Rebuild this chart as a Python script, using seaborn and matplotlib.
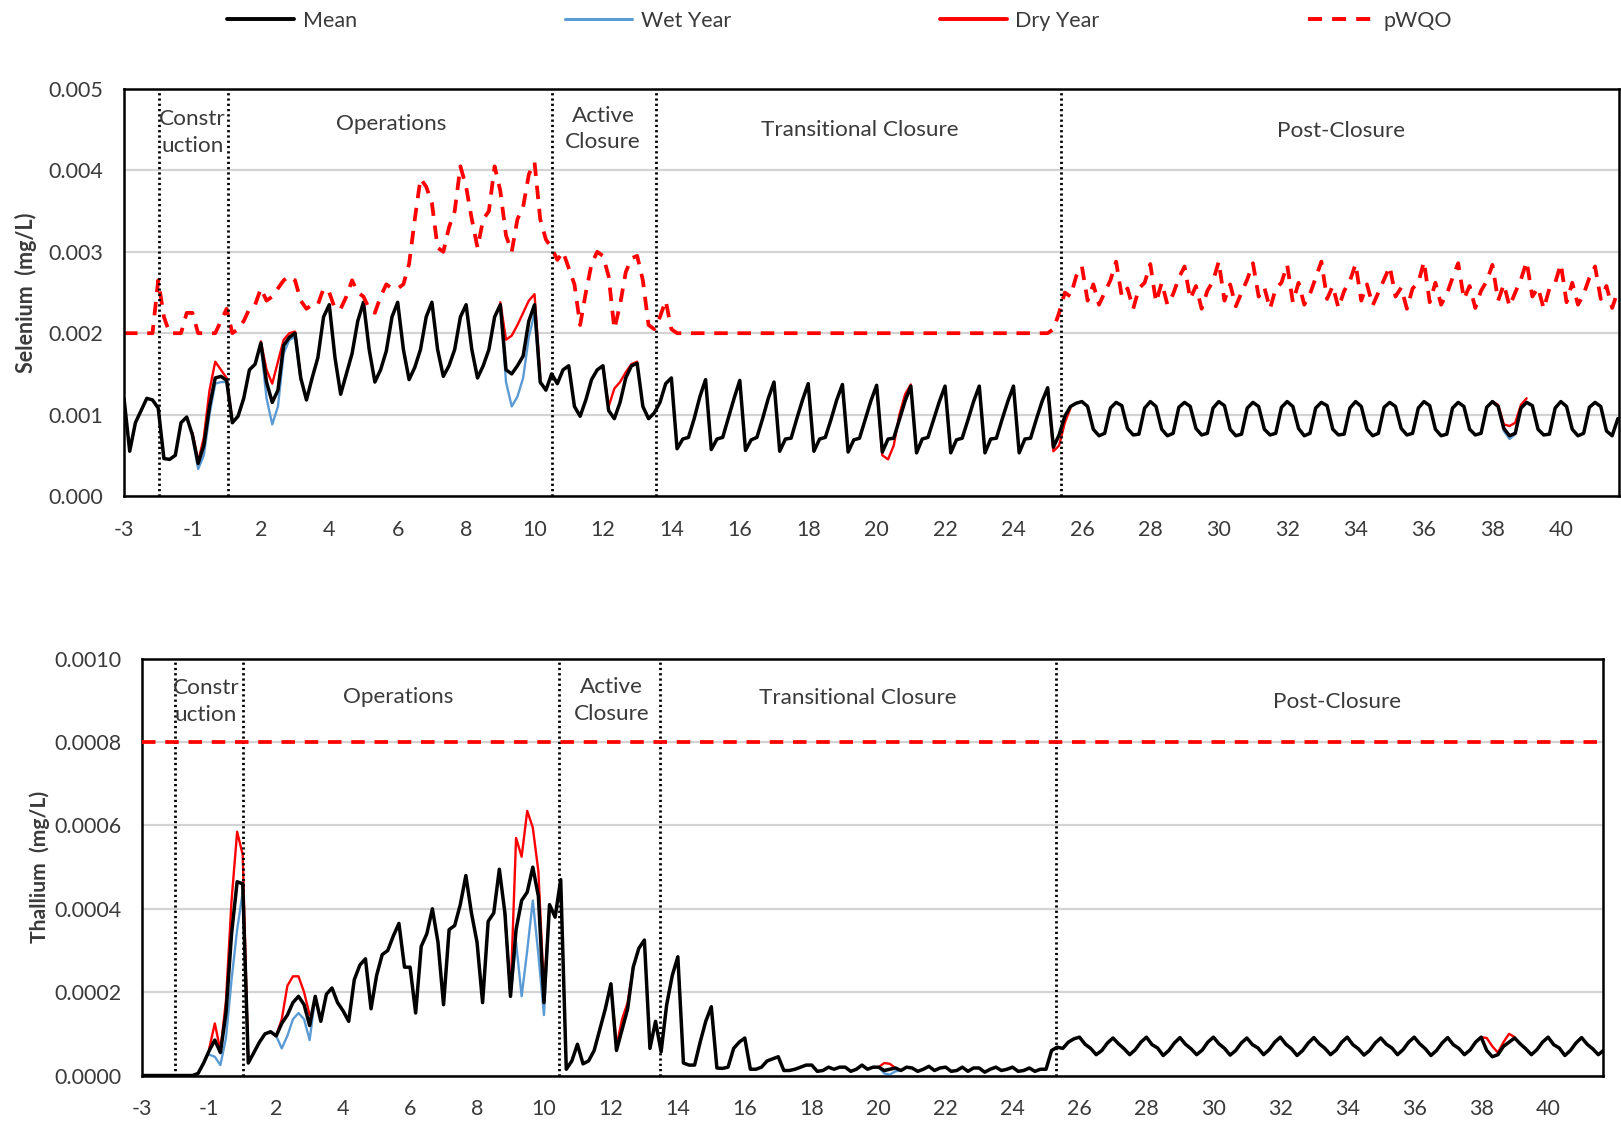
import numpy as np
import pandas as pd
import matplotlib
matplotlib.use("Agg")
import matplotlib.pyplot as plt
from matplotlib.lines import Line2D
import seaborn as sns

# ---------------------------------------------------------------------------
# Time axis: one sample every two months; position 0 is the start of Year -3.
# Years run -3, -2, -1, 1, 2, ... (no year 0).
# ---------------------------------------------------------------------------
SAMPLES_PER_YEAR = 6
year_labels = ["-3", "-2", "-1"] + [str(y) for y in range(1, 42)]

# Selenium, mean scenario (ug/L = mg/L x 1000), six values per year
se_mean_ugL = [
    1.20, 0.55, 0.90, 1.05, 1.20, 1.18,
    1.08, 0.46, 0.45, 0.50, 0.90, 0.97,
    0.75, 0.40, 0.62, 1.10, 1.45, 1.47,
    1.42, 0.90, 0.98, 1.20, 1.55, 1.62,
    1.88, 1.40, 1.15, 1.30, 1.85, 1.95,
    2.00, 1.45, 1.18, 1.45, 1.70, 2.20,
    2.35, 1.70, 1.25, 1.50, 1.75, 2.15,
    2.38, 1.80, 1.40, 1.55, 1.78, 2.20,
    2.38, 1.80, 1.43, 1.58, 1.80, 2.20,
    2.38, 1.80, 1.47, 1.60, 1.80, 2.20,
    2.35, 1.80, 1.45, 1.60, 1.80, 2.20,
    2.35, 1.55, 1.50, 1.60, 1.72, 2.15,
    2.35, 1.40, 1.30, 1.50, 1.38, 1.55,
    1.60, 1.10, 0.98, 1.18, 1.43, 1.55,
    1.60, 1.05, 0.95, 1.15, 1.45, 1.60,
    1.63, 1.10, 0.95, 1.02, 1.15, 1.38,
    1.45, 0.58, 0.70, 0.72, 0.95, 1.22,
    1.43, 0.57, 0.70, 0.72, 0.96, 1.20,
    1.42, 0.56, 0.69, 0.72, 0.95, 1.20,
    1.40, 0.55, 0.70, 0.71, 0.95, 1.18,
    1.38, 0.55, 0.70, 0.72, 0.94, 1.18,
    1.37, 0.54, 0.69, 0.71, 0.94, 1.17,
    1.36, 0.54, 0.70, 0.71, 0.94, 1.17,
    1.35, 0.53, 0.70, 0.72, 0.94, 1.16,
    1.35, 0.53, 0.69, 0.71, 0.93, 1.16,
    1.35, 0.53, 0.70, 0.71, 0.94, 1.16,
    1.35, 0.53, 0.70, 0.71, 0.94, 1.16,
    1.33, 0.60, 0.75, 0.98, 1.10, 1.14,
    1.16, 1.10, 0.82, 0.74, 0.77, 1.08,
    1.15, 1.11, 0.83, 0.75, 0.76, 1.08,
    1.16, 1.10, 0.82, 0.74, 0.77, 1.09,
    1.15, 1.10, 0.83, 0.75, 0.77, 1.08,
    1.16, 1.11, 0.82, 0.74, 0.76, 1.08,
    1.15, 1.10, 0.82, 0.75, 0.77, 1.09,
    1.16, 1.10, 0.83, 0.74, 0.77, 1.08,
    1.15, 1.11, 0.82, 0.75, 0.76, 1.08,
    1.16, 1.10, 0.82, 0.74, 0.77, 1.09,
    1.15, 1.10, 0.83, 0.75, 0.77, 1.08,
    1.16, 1.11, 0.82, 0.74, 0.76, 1.08,
    1.15, 1.10, 0.82, 0.75, 0.77, 1.09,
    1.16, 1.10, 0.83, 0.74, 0.77, 1.08,
    1.15, 1.11, 0.82, 0.75, 0.76, 1.08,
    1.16, 1.10, 0.82, 0.74, 0.77, 1.09,
    1.15, 1.10, 0.80, 0.74, 0.95,
]

# Selenium provisional water quality objective (ug/L)
se_pwqo_ugL = [
    2.00, 2.00, 2.00, 2.00, 2.00, 2.00,
    2.65, 2.20, 2.00, 2.00, 2.00, 2.25,
    2.25, 2.00, 2.00, 2.00, 2.00, 2.15,
    2.30, 2.00, 2.05, 2.15, 2.30, 2.35,
    2.55, 2.40, 2.45, 2.55, 2.65, 2.70,
    2.65, 2.40, 2.30, 2.35, 2.35, 2.55,
    2.50, 2.30, 2.30, 2.45, 2.65, 2.50,
    2.45, 2.30, 2.25, 2.45, 2.60, 2.55,
    2.55, 2.60, 2.85, 3.40, 3.90, 3.80,
    3.60, 3.05, 3.00, 3.30, 3.50, 4.05,
    3.80, 3.40, 3.05, 3.40, 3.50, 4.05,
    3.75, 3.20, 3.00, 3.40, 3.55, 3.95,
    4.10, 3.40, 3.15, 3.05, 2.90, 3.00,
    2.80, 2.60, 2.10, 2.50, 2.85, 3.00,
    2.95, 2.70, 2.05, 2.35, 2.75, 2.92,
    2.95, 2.65, 2.10, 2.05, 2.20, 2.40,
    2.05, 2.00, 2.00, 2.00, 2.00, 2.00,
    2.00, 2.00, 2.00, 2.00, 2.00, 2.00,
    2.00, 2.00, 2.00, 2.00, 2.00, 2.00,
    2.00, 2.00, 2.00, 2.00, 2.00, 2.00,
    2.00, 2.00, 2.00, 2.00, 2.00, 2.00,
    2.00, 2.00, 2.00, 2.00, 2.00, 2.00,
    2.00, 2.00, 2.00, 2.00, 2.00, 2.00,
    2.00, 2.00, 2.00, 2.00, 2.00, 2.00,
    2.00, 2.00, 2.00, 2.00, 2.00, 2.00,
    2.00, 2.00, 2.00, 2.00, 2.00, 2.00,
    2.00, 2.00, 2.00, 2.00, 2.00, 2.00,
    2.00, 2.05, 2.25, 2.50, 2.45, 2.70,
    2.82, 2.40, 2.60, 2.35, 2.50, 2.65,
    2.88, 2.45, 2.55, 2.30, 2.55, 2.62,
    2.85, 2.38, 2.62, 2.35, 2.48, 2.68,
    2.82, 2.42, 2.58, 2.30, 2.52, 2.64,
    2.88, 2.40, 2.60, 2.33, 2.50, 2.66,
    2.86, 2.45, 2.56, 2.30, 2.55, 2.62,
    2.84, 2.38, 2.62, 2.35, 2.48, 2.68,
    2.88, 2.42, 2.58, 2.31, 2.52, 2.64,
    2.85, 2.40, 2.60, 2.34, 2.50, 2.66,
    2.82, 2.45, 2.56, 2.30, 2.55, 2.62,
    2.88, 2.38, 2.62, 2.35, 2.48, 2.68,
    2.86, 2.42, 2.58, 2.31, 2.52, 2.64,
    2.84, 2.40, 2.60, 2.33, 2.50, 2.66,
    2.88, 2.45, 2.56, 2.30, 2.55, 2.62,
    2.85, 2.38, 2.62, 2.35, 2.48, 2.68,
    2.82, 2.42, 2.58, 2.31, 2.52,
]

# Wet / dry year selenium where they depart from the mean: (start year position, values)
se_wet_ugL = [
    (2.0, [0.72, 0.33, 0.50, 1.00, 1.38, 1.40, 1.40, 0.90]),
    (4.0, [1.85, 1.20, 0.88, 1.10, 1.75, 1.92, 1.95, 1.42]),
    (11.0, [2.35, 1.40, 1.10, 1.22, 1.45, 1.95, 2.25, 1.38]),
    (40.0, [1.16, 1.10, 0.80, 0.70, 0.76, 1.08]),
]
se_dry_ugL = [
    (2.0, [0.78, 0.42, 0.72, 1.30, 1.65, 1.55, 1.45, 0.92]),
    (4.0, [1.90, 1.55, 1.38, 1.65, 1.92, 2.00, 2.02, 1.45]),
    (11.0, [2.38, 1.92, 1.97, 2.10, 2.25, 2.40, 2.48, 1.45]),
    (14.0, [1.60, 1.10, 1.32, 1.40, 1.52, 1.62, 1.65]),
    (22.0, [1.36, 0.50, 0.45, 0.62, 1.00, 1.25, 1.37]),
    (27.0, [1.33, 0.55, 0.62, 0.90, 1.08]),
    (40.0, [1.16, 1.12, 0.88, 0.86, 0.90, 1.12, 1.20]),
]

# Thallium, mean scenario (units of 1e-4 mg/L), six values per year
tl_mean_e4 = [
    0.00, 0.00, 0.00, 0.00, 0.00, 0.00,
    0.00, 0.00, 0.00, 0.00, 0.05, 0.30,
    0.60, 0.85, 0.55, 1.50, 3.40, 4.65,
    4.60, 0.30, 0.55, 0.80, 1.00, 1.05,
    0.95, 1.25, 1.45, 1.75, 1.90, 1.70,
    1.20, 1.90, 1.30, 1.95, 2.10, 1.75,
    1.55, 1.30, 2.30, 2.65, 2.80, 1.60,
    2.40, 2.90, 3.00, 3.35, 3.65, 2.60,
    2.60, 1.50, 3.10, 3.40, 4.00, 3.20,
    1.70, 3.50, 3.60, 4.10, 4.80, 3.90,
    3.20, 1.75, 3.70, 3.90, 4.95, 3.90,
    1.90, 3.50, 4.20, 4.40, 5.00, 4.30,
    1.75, 4.10, 3.80, 4.70, 0.15, 0.35,
    0.75, 0.28, 0.35, 0.60, 1.10, 1.60,
    2.20, 0.60, 1.10, 1.60, 2.60, 3.05,
    3.25, 0.65, 1.30, 0.57, 1.70, 2.40,
    2.85, 0.30, 0.25, 0.25, 0.80, 1.30,
    1.65, 0.18, 0.17, 0.20, 0.65, 0.80,
    0.90, 0.15, 0.15, 0.20, 0.35, 0.40,
    0.45, 0.12, 0.12, 0.15, 0.20, 0.25,
    0.25, 0.10, 0.12, 0.20, 0.15, 0.20,
    0.20, 0.10, 0.15, 0.25, 0.15, 0.20,
    0.20, 0.12, 0.15, 0.18, 0.12, 0.20,
    0.18, 0.10, 0.15, 0.22, 0.12, 0.18,
    0.20, 0.10, 0.12, 0.20, 0.10, 0.18,
    0.18, 0.08, 0.15, 0.20, 0.12, 0.15,
    0.20, 0.10, 0.12, 0.18, 0.10, 0.15,
    0.15, 0.60, 0.68, 0.65, 0.80, 0.88,
    0.92, 0.75, 0.65, 0.50, 0.60, 0.78,
    0.90, 0.76, 0.64, 0.50, 0.62, 0.80,
    0.92, 0.74, 0.66, 0.48, 0.60, 0.78,
    0.91, 0.75, 0.64, 0.50, 0.61, 0.80,
    0.92, 0.76, 0.65, 0.49, 0.60, 0.78,
    0.90, 0.74, 0.66, 0.50, 0.62, 0.80,
    0.92, 0.75, 0.64, 0.48, 0.60, 0.78,
    0.91, 0.76, 0.65, 0.50, 0.61, 0.80,
    0.92, 0.74, 0.64, 0.49, 0.60, 0.78,
    0.90, 0.75, 0.66, 0.50, 0.62, 0.80,
    0.92, 0.76, 0.64, 0.48, 0.60, 0.78,
    0.91, 0.74, 0.65, 0.50, 0.61, 0.80,
    0.92, 0.60, 0.45, 0.50, 0.70, 0.80,
    0.90, 0.76, 0.64, 0.50, 0.62, 0.80,
    0.92, 0.74, 0.66, 0.48, 0.60, 0.78,
    0.91, 0.75, 0.64, 0.50, 0.61,
]
tl_wet_e4 = [
    (2.0, [0.50, 0.45, 0.25, 0.90, 2.30, 3.50, 4.40, 0.30]),
    (4.0, [0.95, 0.65, 0.95, 1.35, 1.50, 1.35, 0.85, 1.90]),
    (10.833333, [3.90, 1.90, 3.20, 1.90, 3.00, 4.20, 2.90, 1.45, 4.10]),
    (22.0, [0.20, 0.05, 0.02, 0.10, 0.12]),
]
tl_dry_e4 = [
    (2.0, [0.65, 1.25, 0.60, 1.80, 4.20, 5.85, 5.30, 0.30]),
    (4.0, [0.95, 1.35, 2.15, 2.38, 2.38, 2.00, 1.45]),
    (10.833333, [3.90, 1.90, 5.70, 5.25, 6.35, 5.95, 4.90, 2.00, 4.10]),
    (14.0, [2.20, 0.70, 1.35, 1.75, 2.60]),
    (22.0, [0.20, 0.30, 0.28, 0.18]),
    (40.0, [0.92, 0.90, 0.70, 0.55, 0.80, 1.00, 0.92]),
]
tl_pwqo = 0.0008

# Mine-life phases: boundaries (year positions) and labels for each panel
phase_bounds_se = [1.02, 3.05, 12.52, 15.55, 27.4]
phase_bounds_tl = [0.97, 3.01, 12.46, 15.46, 27.29]
phase_labels = ["Constr\nuction", "Operations", "Active\nClosure",
                "Transitional Closure", "Post-Closure"]
phase_label_pos_se = [(2.0, 0.00447), (7.8, 0.00457), (14.0, 0.00451),
                      (21.5, 0.00450), (35.57, 0.00449)]
phase_label_pos_tl = [(1.9, 0.000897), (7.64, 0.000908), (14.01, 0.000900),
                      (21.36, 0.000906), (35.7, 0.000896)]

# ---------------------------------------------------------------------------
C_MEAN, C_WET, C_DRY, C_PWQO = "#000000", "#5b9bd5", "#ff0000", "#ff0000"
TXT = "#3a3a3a"
PWQO_DASH = (0, (3.6, 2.6))

sns.set_theme(style="white")
plt.rcParams["font.family"] = ["Lato", "DejaVu Sans"]
plt.rcParams["axes.edgecolor"] = "black"

W, H = 1621, 1122
fig = plt.figure(figsize=(W / 100, H / 100), dpi=100)
ax_se = fig.add_axes([124.0 / W, 1 - 496 / H, (1619 - 124.0) / W, (496 - 89) / H])
ax_tl = fig.add_axes([142.3 / W, 1 - 1075.5 / H, (1603 - 142.3) / W, (1075.5 - 658.8) / H])


def series_frame(values, scale, start=0.0):
    v = np.asarray(values, dtype=float) * scale
    t = start + np.arange(len(v)) / SAMPLES_PER_YEAR
    return pd.DataFrame({"t": t, "v": v})


def segments_frame(segs, scale):
    parts = []
    for k, (start, vals) in enumerate(segs):
        d = series_frame(vals, scale, start)
        d["seg"] = k
        parts.append(d)
    return pd.concat(parts, ignore_index=True)


def draw_panel(ax, mean, wet, dry, scale, bounds):
    sns.lineplot(data=segments_frame(wet, scale), x="t", y="v", units="seg",
                 estimator=None, sort=False, color=C_WET, lw=1.7, ax=ax)
    sns.lineplot(data=segments_frame(dry, scale), x="t", y="v", units="seg",
                 estimator=None, sort=False, color=C_DRY, lw=1.7, ax=ax)
    sns.lineplot(data=series_frame(mean, scale), x="t", y="v",
                 estimator=None, sort=False, color=C_MEAN, lw=2.5, ax=ax)
    for b in bounds:
        ax.axvline(b, color="black", lw=2.0, ls=(0, (0.8, 1.1)), zorder=3)


# ---- Selenium panel ----
draw_panel(ax_se, se_mean_ugL, se_wet_ugL, se_dry_ugL, 1e-3, phase_bounds_se)
sns.lineplot(data=series_frame(se_pwqo_ugL, 1e-3), x="t", y="v", estimator=None,
             sort=False, color=C_PWQO, lw=2.7, ax=ax_se, linestyle=PWQO_DASH)
ax_se.set_ylim(0, 0.005)
ax_se.set_xlim(0, 43.7)
ax_se.set_yticks([0.000, 0.001, 0.002, 0.003, 0.004, 0.005])
ax_se.set_yticklabels([f"{v:.3f}" for v in ax_se.get_yticks()])
ax_se.set_ylabel("Selenium  (mg/L)", fontsize=15.5, fontweight="bold", color=TXT)
ax_se.yaxis.set_label_coords((37 - 124.0) / (1619 - 124.0), 0.5)
for (x, y), s in zip(phase_label_pos_se, phase_labels):
    ax_se.text(x, y, s, ha="center", va="center", fontsize=16.2, color=TXT,
               linespacing=1.42)

# ---- Thallium panel ----
draw_panel(ax_tl, tl_mean_e4, tl_wet_e4, tl_dry_e4, 1e-4, phase_bounds_tl)
ax_tl.axhline(tl_pwqo, color=C_PWQO, lw=2.7, ls=PWQO_DASH, zorder=4)
ax_tl.set_ylim(0, 0.001)
ax_tl.set_xlim(0, 43.64)
ax_tl.set_yticks([0.0, 0.0002, 0.0004, 0.0006, 0.0008, 0.0010])
ax_tl.set_yticklabels([f"{v:.4f}" for v in ax_tl.get_yticks()])
ax_tl.set_ylabel("Thallium  (mg/L)", fontsize=15.2, fontweight="bold", color=TXT)
ax_tl.yaxis.set_label_coords((50 - 142.3) / (1603 - 142.3), 0.5)
for (x, y), s in zip(phase_label_pos_tl, phase_labels):
    ax_tl.text(x, y, s, ha="center", va="center", fontsize=16.2, color=TXT,
               linespacing=1.42)

for ax in (ax_se, ax_tl):
    ax.set_xlabel("")
    ax.set_xticks(np.arange(len(year_labels)))
    ax.set_xticklabels([lab if i % 2 == 0 else "" for i, lab in enumerate(year_labels)])
    ax.tick_params(axis="both", direction="out", length=5, width=1.4, color="black",
                   labelsize=15.5, labelcolor=TXT)
    ax.tick_params(axis="x", pad=12)
    ax.tick_params(axis="y", pad=9.7)
    ax.yaxis.grid(True, color="#d3d3d3", lw=1.6)
    ax.xaxis.grid(False)
    ax.set_axisbelow(True)
    for sp in ax.spines.values():
        sp.set_linewidth(1.8)
        sp.set_color("black")
        sp.set_visible(True)

# ---- shared legend across the top ----
handles = [
    Line2D([], [], color=C_MEAN, lw=2.8),
    Line2D([], [], color=C_WET, lw=2.2),
    Line2D([], [], color=C_DRY, lw=2.8),
    Line2D([], [], color=C_PWQO, lw=2.8, ls=PWQO_DASH),
]
fig.legend(handles, ["Mean", "Wet Year", "Dry Year", "pWQO"], loc="center",
           bbox_to_anchor=(0.518, 1 - 21 / H), ncol=4, frameon=False,
           fontsize=15.5, handlelength=3.1, handletextpad=0.4, columnspacing=9.7,
           labelcolor=TXT)

fig.savefig("out.png", dpi=100, facecolor="white")
